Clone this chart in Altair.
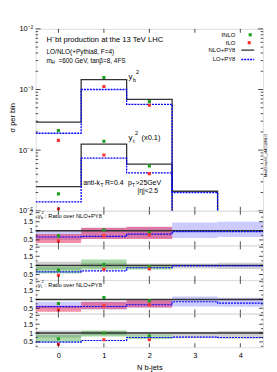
import altair as alt
import pandas as pd

FONT = "Liberation Sans"
W = 230
H_MAIN = 184
H_R = [35, 35, 34, 34]

bins = [0, 1, 2, 3, 4]
edges = [-0.5, 0.5, 1.5, 2.5, 3.5, 4.5]
x_tick_vals = [0, 1, 2, 3, 4]

# ---- main panel values (sigma per bin) ----
nlo_py8_yb = [2.9e-4, 1.46e-3, 6.85e-4, 2.1e-5, 3.0e-6]
lo_py8_yb = [1.9e-4, 1.0e-3, 5.7e-4, 2.0e-5, 2.8e-6]
fnlo_yb = [2.1e-4, 1.58e-3, 6.3e-4]
flo_yb = [1.45e-4, 1.12e-3, 5.5e-4]
nlo_py8_yt = [2.5e-5, 1.26e-4, 5.9e-5, 3.0e-6, 5.0e-7]
lo_py8_yt = [1.4e-5, 7.4e-5, 4.2e-5, 2.5e-6, 4.0e-7]
fnlo_yt = [1.9e-5, 1.4e-4, 5.5e-5]
flo_yt = [1.07e-5, 8.3e-5, 4.1e-5]

# ---- ratio panel 1 (y_b^2, LO bands) ----
r1_blue_lo = [0.50, 0.55, 0.58, 0.60, 0.66]
r1_blue_hi = [1.00, 1.15, 1.20, 1.45, 1.50]
r1_red_lo = [0.33, 0.55, 0.55]
r1_red_hi = [0.83, 1.17, 1.22]
r1_lo_line = [0.66, 0.69, 0.82, 0.95, 0.95]
r1_green = [0.72, 1.06, 0.91]
r1_red = [0.45, 0.72, 0.78]

# ---- ratio panel 2 (y_b^2, NLO bands) ----
r2_gray_lo = [0.75, 0.85, 0.85, 0.83, 0.80]
r2_gray_hi = [1.20, 1.15, 1.10, 1.10, 1.15]
r2_green_lo = [0.55, 0.78, 0.78]
r2_green_hi = [0.95, 1.33, 1.02]
r2_lo_line = [0.65, 0.70, 0.87, 0.97, 0.97]
r2_green = [0.74, 1.04, 0.93]
r2_red = [0.46, 0.78, 0.80]

# ---- ratio panel 3 (y_t^2, LO bands) ----
r3_blue_lo = [0.49, 0.45, 0.55, 0.60, 0.59]
r3_blue_hi = [0.87, 0.87, 0.96, 1.17, 1.10]
r3_red_lo = [0.30, 0.45, 0.55]
r3_red_hi = [0.64, 0.87, 0.96]
r3_lo_line = [0.59, 0.60, 0.70, 0.87, 0.79]
r3_green = [0.77, 1.11, 0.92]
r3_red = [0.42, 0.64, 0.70]

# ---- ratio panel 4 (y_t^2, NLO bands) ----
r4_gray_lo = [0.75, 0.88, 0.88, 0.72, 0.68]
r4_gray_hi = [1.15, 1.12, 1.07, 1.07, 1.12]
r4_green_lo = [0.49, 0.81, 0.67]
r4_green_hi = [0.90, 1.15, 0.90]
r4_lo_line = [0.49, 0.58, 0.75, 0.77, 0.75]
r4_green = [0.68, 1.00, 0.85]
r4_red = [0.37, 0.62, 0.62]

main_major = [1e-5, 1e-4, 1e-3, 1e-2]
main_minor = [k * 10.0 ** e for e in (-5, -4, -3) for k in range(2, 10)]
ratio_major = [0.5, 1.0, 1.5, 2.0]
ratio_minor = [0.25, 0.75, 1.25, 1.75]

BLACK = "#333333"
BLUE = "#0000ff"
GREEN = "#1f9e1f"
RED = "#ff3030"

xscale = alt.Scale(domain=[-0.5, 4.5], nice=False, zero=False)


def step_df(vals):
    return pd.DataFrame({"x": edges, "v": list(vals) + [vals[-1]]})


def pts_df(vals):
    return pd.DataFrame({"x": bins[: len(vals)], "v": vals})


def band_df(lo, hi):
    n = len(lo)
    return pd.DataFrame({"x1": edges[:n], "x2": edges[1 : n + 1], "lo": lo, "hi": hi})


def one():
    return pd.DataFrame({"a": [0]})


def txt(t, x, y, size, align="left", angle=0, baseline="middle"):
    return (
        alt.Chart(one())
        .mark_text(text=t, align=align, baseline=baseline, fontSize=size,
                   angle=angle, color="black", font=FONT)
        .encode(x=alt.value(x), y=alt.value(y))
    )


def step_line(vals, yscale, yaxis, xaxis, color, dash=None, width=1.3):
    kw = dict(interpolate="step-after", clip=True, color=color, strokeWidth=width)
    if dash:
        kw["strokeDash"] = dash
    return alt.Chart(step_df(vals)).mark_line(**kw).encode(
        x=alt.X("x:Q", scale=xscale, axis=xaxis),
        y=alt.Y("v:Q", scale=yscale, axis=yaxis),
    )


def points(vals, yscale, yaxis, xaxis, color):
    return alt.Chart(pts_df(vals)).mark_square(size=10, color=color, opacity=1, clip=True).encode(
        x=alt.X("x:Q", scale=xscale, axis=xaxis),
        y=alt.Y("v:Q", scale=yscale, axis=yaxis),
    )


def band(lo, hi, yscale, yaxis, xaxis, color, op):
    return alt.Chart(band_df(lo, hi)).mark_rect(color=color, opacity=op, clip=True).encode(
        x=alt.X("x1:Q", scale=xscale, axis=xaxis),
        x2="x2:Q",
        y=alt.Y("lo:Q", scale=yscale, axis=yaxis),
        y2="hi:Q",
    )


def yticks(vals, yscale, yaxis, length):
    df = pd.DataFrame({"v": vals})
    left = alt.Chart(df).mark_rule(color="black", strokeWidth=0.7).encode(
        y=alt.Y("v:Q", scale=yscale, axis=yaxis), x=alt.value(0), x2=alt.value(length))
    right = alt.Chart(df).mark_rule(color="black", strokeWidth=0.7).encode(
        y=alt.Y("v:Q", scale=yscale, axis=yaxis), x=alt.value(W), x2=alt.value(W - length))
    return [left, right]


def xticks(h, xaxis):
    df = pd.DataFrame({"x": x_tick_vals})
    top = alt.Chart(df).mark_rule(color="black", strokeWidth=0.7).encode(
        x=alt.X("x:Q", scale=xscale, axis=xaxis), y=alt.value(0), y2=alt.value(4))
    bot = alt.Chart(df).mark_rule(color="black", strokeWidth=0.7).encode(
        x=alt.X("x:Q", scale=xscale, axis=xaxis), y=alt.value(h), y2=alt.value(h - 4))
    return [top, bot]


# ---------------- main panel ----------------
ys_main = alt.Scale(type="log", domain=[1e-5, 1e-2], nice=False)
ya_main = alt.Axis(
    values=main_major, ticks=False, domain=False, grid=False, title=None,
    labelFontSize=7.5, labelPadding=3, labelColor="black", labelFont=FONT,
    labelExpr="datum.value > 0.005 ? '10⁻²' : datum.value > 0.0005 ? '10⁻³' : datum.value > 0.00005 ? '10⁻⁴' : '10⁻⁵'",
)

main_layers = [
    step_line(nlo_py8_yb, ys_main, ya_main, None, BLACK),
    step_line(nlo_py8_yt, ys_main, ya_main, None, BLACK),
    step_line(lo_py8_yb, ys_main, ya_main, None, BLUE, dash=[2, 1]),
    step_line(lo_py8_yt, ys_main, ya_main, None, BLUE, dash=[2, 1]),
    points(fnlo_yb, ys_main, ya_main, None, GREEN),
    points(flo_yb, ys_main, ya_main, None, RED),
    points(fnlo_yt, ys_main, ya_main, None, GREEN),
    points(flo_yt, ys_main, ya_main, None, RED),
]
main_layers += yticks(main_major, ys_main, ya_main, 5)
main_layers += yticks(main_minor, ys_main, ya_main, 2.5)
main_layers += xticks(H_MAIN, None)
main_layers += [
    txt("H⁻bt production at the 13 TeV LHC", 11, 11, 7.7),
    txt("LO/NLO(+Pythia8, F=4)", 11, 23, 6.5),
    txt("m", 11, 33, 6.5),
    txt("H⁻", 16, 35, 4.5),
    txt("=600 GeV, tanβ=8, 4FS", 23, 33, 6.5),
    txt("y", 94, 49, 8),
    txt("b", 98.5, 52, 5.5),
    txt("2", 101.5, 44, 5.5),
    txt("y", 94, 110, 8),
    txt("t", 98.5, 113, 5.5),
    txt("2", 100.5, 105, 5.5),
    txt("(x0.1)", 107, 110, 7.5),
    txt("anti-k", 48, 156, 7),
    txt("T", 65.5, 158.5, 4.8),
    txt("R=0.4", 70, 156, 7),
    txt("p", 93.5, 156, 7),
    txt("T", 97.5, 158.5, 4.8),
    txt(">25GeV", 101, 156, 7),
    txt("|η|<2.5", 103, 164.5, 6.8),
    # legend
    txt("fNLO", 202, 6, 6, align="right"),
    txt("fLO", 202, 14, 6, align="right"),
    txt("NLO+PY8", 202, 21.5, 6, align="right"),
    txt("LO+PY8", 202, 31, 6, align="right"),
    alt.Chart(one()).mark_square(size=10, color=GREEN, opacity=1).encode(x=alt.value(217), y=alt.value(6)),
    alt.Chart(one()).mark_square(size=10, color=RED, opacity=1).encode(x=alt.value(216), y=alt.value(14)),
    alt.Chart(one()).mark_rule(color=BLACK, strokeWidth=1.3).encode(
        x=alt.value(208), x2=alt.value(221), y=alt.value(21.5)),
    alt.Chart(one()).mark_rule(color=BLUE, strokeWidth=1.3, strokeDash=[2, 1]).encode(
        x=alt.value(208), x2=alt.value(221), y=alt.value(31)),
    # axis title and side text
    txt("σ per bin", -23, 90, 7.5, align="center", angle=270),
    txt("MadGraph5_aMC@NLO", 233, 128, 4, align="center", angle=270),
]
main = alt.layer(*main_layers).properties(width=W, height=H_MAIN)


# ---------------- ratio panels ----------------
def ratio_panel(h, bands_spec, lo_line, green, red, label=None, bottom=False):
    ys = alt.Scale(domain=[0.2, 2.1], nice=False, zero=False)
    ya = alt.Axis(values=ratio_major, format="~g", ticks=False, domain=False, grid=False,
                  title=None, labelFontSize=7, labelPadding=3, labelColor="black", labelFont=FONT)
    if bottom:
        xa = alt.Axis(values=x_tick_vals, format="d", ticks=False, domain=False, grid=False,
                      title="N b-jets", titleFontSize=7.5, titleFontWeight="normal",
                      titleFont=FONT, titleColor="black", titlePadding=5,
                      labelFontSize=7.5, labelPadding=4, labelColor="black", labelFont=FONT)
    else:
        xa = None
    layers = []
    for lo, hi, col, op in bands_spec:
        layers.append(band(lo, hi, ys, ya, xa, col, op))
    one_df = pd.DataFrame({"x": [-0.5, 4.5], "v": [1.0, 1.0]})
    layers.append(alt.Chart(one_df).mark_line(color=BLACK, strokeWidth=1.4).encode(
        x=alt.X("x:Q", scale=xscale, axis=xa), y=alt.Y("v:Q", scale=ys, axis=ya)))
    layers.append(step_line(lo_line, ys, ya, xa, BLUE, dash=[2, 1], width=1.2))
    layers.append(points(green, ys, ya, xa, GREEN))
    layers.append(points(red, ys, ya, xa, RED))
    layers += yticks(ratio_major, ys, ya, 4)
    layers += yticks(ratio_minor, ys, ya, 2)
    layers += xticks(h, xa)
    if label:
        layers += [
            txt("y", 2, 5, 6),
            txt(label, 5.5, 7, 4),
            txt("2", 6, 2.5, 4),
            txt(": Ratio over NLO+PY8", 9.5, 5, 5.8),
        ]
    return alt.layer(*layers).properties(width=W, height=h)


BLUE_BAND = "#6b6bff"
RED_BAND = "#e8204f"
GREEN_BAND = "#2ca02c"
GRAY_BAND = "#8c8c8c"

r1 = ratio_panel(H_R[0], [
    (r1_blue_lo, r1_blue_hi, BLUE_BAND, 0.35),
    (r1_red_lo, r1_red_hi, RED_BAND, 0.5),
], r1_lo_line, r1_green, r1_red, label="b")

r2 = ratio_panel(H_R[1], [
    (r2_gray_lo, r2_gray_hi, GRAY_BAND, 0.4),
    (r2_green_lo, r2_green_hi, GREEN_BAND, 0.4),
], r2_lo_line, r2_green, r2_red)

r3 = ratio_panel(H_R[2], [
    (r3_blue_lo, r3_blue_hi, BLUE_BAND, 0.35),
    (r3_red_lo, r3_red_hi, RED_BAND, 0.5),
], r3_lo_line, r3_green, r3_red, label="t")

r4 = ratio_panel(H_R[3], [
    (r4_gray_lo, r4_gray_hi, GRAY_BAND, 0.4),
    (r4_green_lo, r4_green_hi, GREEN_BAND, 0.4),
], r4_lo_line, r4_green, r4_red, bottom=True)

chart = (
    alt.vconcat(main, r1, r2, r3, r4, spacing=0, bounds="flush")
    .properties(padding={"left": 0, "top": 14, "right": 0, "bottom": 0})
    .configure_view(stroke="black", strokeWidth=1)
    .configure(font=FONT, background="white")
)

chart.save("out.html", embed_options={"renderer": "svg", "actions": False})
